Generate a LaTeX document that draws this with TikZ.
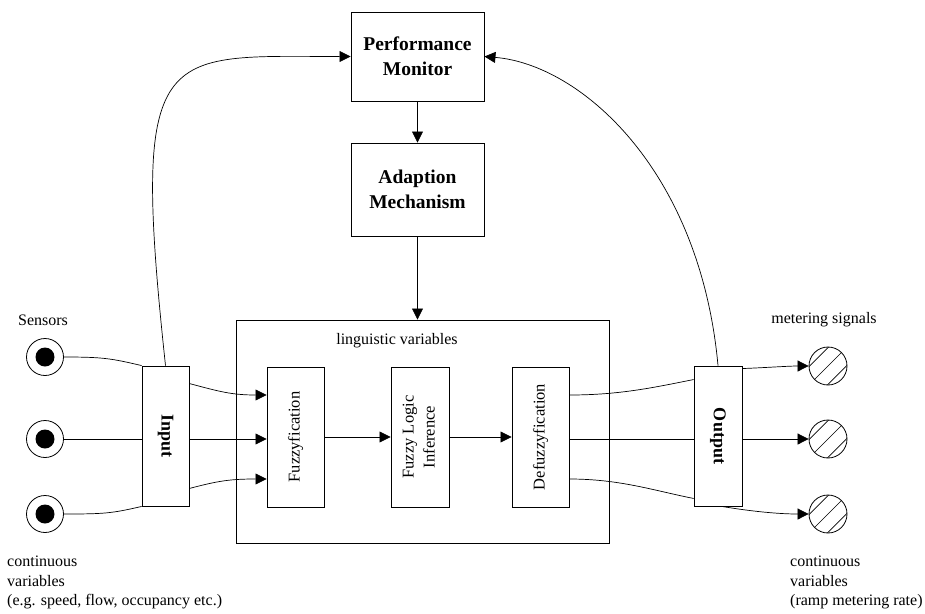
\documentclass[tikz,border=0pt]{standalone}
\usepackage{fontspec}
\usepackage{graphicx}
\setmainfont{Liberation Serif}
\usetikzlibrary{arrows.meta,calc}
\begin{document}
\begin{tikzpicture}[x=1pt,y=1pt,
  box/.style={draw,line width=0.9pt,inner sep=0pt,align=center},
  conn/.style={line width=0.7pt},
  arr/.style={conn,-{Triangle[length=11pt,width=11pt]}},
  txt/.style={font=\fontsize{16}{19.5}\selectfont},
  rtxt/.style={font=\fontsize{16.5}{20}\selectfont},
  bigtxt/.style={font=\bfseries\fontsize{19.5}{25}\selectfont},
  iotxt/.style={font=\bfseries\fontsize{18}{21}\selectfont},
  sensor/.style={circle,draw,line width=0.8pt,minimum size=37pt,inner sep=0pt},
  actuator/.style={circle,draw,line width=0.8pt,minimum size=38pt,inner sep=0pt}]
\useasboundingbox (0,0) rectangle (925,-613);

% top boxes
\node[box,bigtxt,minimum width=133pt,minimum height=89pt] (pm) at (417.5,-56.5) {Performance\\Monitor};
\node[box,bigtxt,minimum width=133pt,minimum height=93pt] (am) at (417.5,-189.5) {Adaption\\Mechanism};

% linguistic box
\node[box,minimum width=373pt,minimum height=223pt] (ling) at (422.5,-431.5) {};
\node[txt] (lv) at (397,-341) {linguistic variables};

\node[box,rtxt,minimum width=57pt,minimum height=140pt] (fuz) at (295.5,-437) {\rotatebox{90}{Fuzzyfication}};
\node[box,rtxt,minimum width=58pt,minimum height=140pt] (fli) at (420,-437) {\rotatebox{90}{\begin{tabular}{@{}c@{}}Fuzzy Logic\\[1pt]Inference\end{tabular}}};
\node[box,rtxt,minimum width=57pt,minimum height=140pt] (def) at (540.5,-437) {\rotatebox{90}{Defuzzyfication}};

% input / output
\node[box,iotxt,minimum width=47pt,minimum height=140pt] (inp) at (165.5,-436) {\rotatebox{-90}{Input}};
\node[box,iotxt,minimum width=48pt,minimum height=140pt] (outp) at (718,-436) {\rotatebox{-90}{Output}};

% sensors
\node[sensor] (s1) at (45,-357) {};
\node[sensor] (s2) at (45,-439) {};
\node[sensor] (s3) at (45,-514) {};
\foreach \s in {s1,s2,s3} {\fill (\s.center) circle (9.5pt);}

% actuators
\node[actuator] (o1) at (828,-366) {};
\node[actuator] (o2) at (828,-439) {};
\node[actuator] (o3) at (828,-514) {};
\foreach \o in {o1,o2,o3} {
  \begin{scope}
    \clip (\o.center) circle (19pt);
    \foreach \d in {-13,0,13} {
      \draw[line width=0.6pt] ($(\o.center)+(\d*0.7071,-\d*0.7071)+(-25,-25)$) -- ($(\o.center)+(\d*0.7071,-\d*0.7071)+(25,25)$);
    }
  \end{scope}
}

% labels
\node[txt] (lsens) at (43,-320) {Sensors};
\node[txt] (lmet) at (824,-320) {metering signals};
\node[txt,align=left,anchor=north west,inner sep=0pt] (lcin) at (7,-556) {continuous\\variables\\(e.g. speed, flow, occupancy etc.)};
\node[txt,align=left,anchor=north west,inner sep=0pt] (lcout) at (790,-556) {continuous\\variables\\(ramp metering rate)};

% vertical flow
\draw[arr] (pm.south) -- (am.north);
\draw[arr] (am.south) -- (am.south |- ling.north);

% sensors to input
\draw[conn] (s1.east) .. controls +(40,0) and +(-30,7) .. (inp.north west);
\draw[conn] (s2.east) -- (s2 -| inp.west);
\draw[conn] (s3.east) .. controls +(40,0) and +(-30,-7) .. (inp.south west);

% input to fuzzyfication
\draw[arr] ($(inp.north east)+(0,-18)$) .. controls +(30,-8) and +(-35,0) .. ($(fuz.west)+(0,42)$);
\draw[arr] (s2 -| inp.east) -- (s2 -| fuz.west);
\draw[arr] ($(inp.south east)+(0,18)$) .. controls +(30,8) and +(-35,0) .. ($(fuz.west)+(0,-42)$);

% inner chain
\draw[arr] (fuz.east) -- (fli.west);
\draw[arr] (fli.east) -- (def.west);

% defuzzyfication to output
\draw[conn] ($(def.east)+(0,42)$) .. controls +(50,0) and +(-40,-8) .. ($(outp.north west)+(0,-14)$);
\draw[conn] (s2 -| def.east) -- (s2 -| outp.west);
\draw[conn] ($(def.east)+(0,-42)$) .. controls +(50,0) and +(-40,8) .. ($(outp.south west)+(0,8)$);

% output to actuators
\draw[arr] ($(outp.north east)+(0,-3)$) .. controls +(25,1) and +(-20,0) .. (o1.west);
\draw[arr] (o2 -| outp.east) -- (o2.west);
\draw[arr] ($(outp.south)+(4,0)$) .. controls +(30,-5) and +(-30,0) .. (o3.west);

% feedback
\draw[arr] (inp.north) .. controls +(-35,326) and +(-191,0) .. (pm.west);
\draw[arr] (outp.north) .. controls +(-18,196) and +(96,-8) .. (pm.east);
\end{tikzpicture}
\end{document}
